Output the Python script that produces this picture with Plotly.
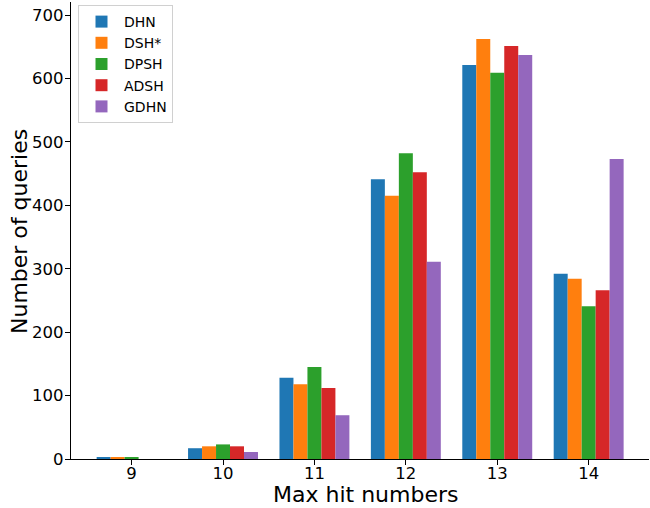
import plotly.graph_objects as go

categories = [9, 10, 11, 12, 13, 14]
series_names = ["DHN", "DSH*", "DPSH", "ADSH", "GDHN"]
dhn = [2, 17, 128, 441, 621, 292]
dsh = [2, 20, 118, 415, 662, 284]
dpsh = [2, 23, 145, 482, 609, 241]
adsh = [0, 20, 112, 452, 651, 266]
gdhn = [0, 11, 69, 311, 637, 473]
colors = ["#1f77b4", "#ff7f0e", "#2ca02c", "#d62728", "#9467bd"]
x_title = "Max hit numbers"
y_title = "Number of queries"

fig = go.Figure()
for name, vals, c in zip(series_names, [dhn, dsh, dpsh, adsh, gdhn], colors):
    fig.add_trace(go.Bar(x=categories, y=vals, name=name, marker=dict(color=c, line=dict(width=0))))

font = "DejaVu Sans, Arial, sans-serif"
L, R, T, B = 71, 1, 2, 49
W, H = 650, 508
pw, ph = W - L - R, H - T - B
fig.update_layout(
    width=W, height=H,
    margin=dict(l=L, r=R, t=T, b=B, autoexpand=False),
    plot_bgcolor="white", paper_bgcolor="white",
    barmode="group", bargap=0.235, bargroupgap=0,
    font=dict(family=font, size=14, color="black"),
    legend=dict(x=(78 - L) / pw, y=1 - (5 - T) / ph, xanchor="left", yanchor="top",
                bgcolor="rgba(255,255,255,0.8)", bordercolor="#d0d0d0", borderwidth=1,
                font=dict(size=14), tracegroupgap=0, itemwidth=35),
    xaxis=dict(range=[8.337, 14.66], tickvals=categories, showline=True, linecolor="black",
               linewidth=1.2, ticks="outside", ticklen=5, tickcolor="black", showgrid=False,
               zeroline=False, automargin=False, tickfont=dict(size=16.5),
               ticklabelstandoff=-6),
    yaxis=dict(range=[0, 720.5], tickvals=[0, 100, 200, 300, 400, 500, 600, 700], showline=True,
               linecolor="black", linewidth=1.2, ticks="outside", ticklen=5, tickcolor="black",
               showgrid=False, zeroline=False, automargin=False, tickfont=dict(size=16.5),
               ticklabelstandoff=-2),
    annotations=[
        dict(text=x_title, xref="paper", yref="paper", x=(365 - L) / pw, y=0,
             yshift=-(494 - (H - B)), xanchor="center", yanchor="middle", showarrow=False,
             font=dict(size=22)),
        dict(text=y_title, xref="paper", yref="paper", x=0, xshift=-(L - 20),
             y=1 - (232 - T) / ph, xanchor="center", yanchor="middle", textangle=-90,
             showarrow=False, font=dict(size=22)),
    ],
)
fig.write_html("out.html", config={"displayModeBar": False},
               post_script="document.body.style.margin='0';document.body.style.overflow='hidden';")
